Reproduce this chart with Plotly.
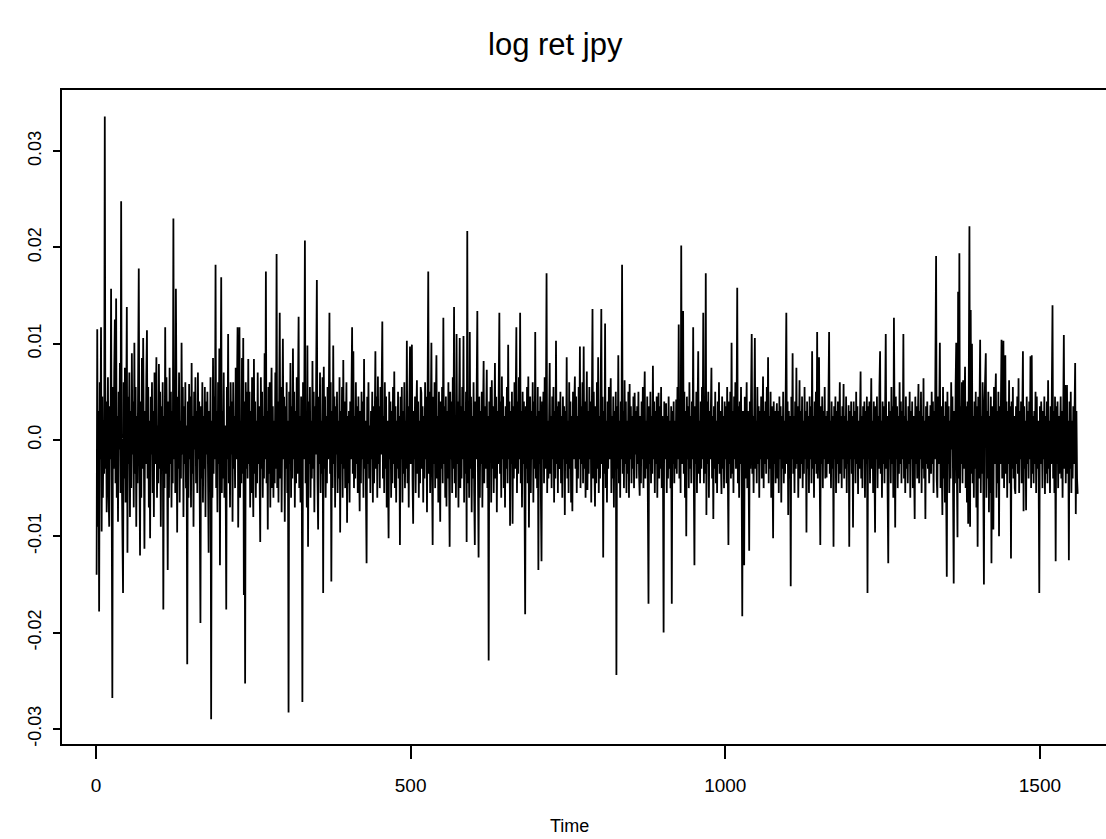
import plotly.graph_objects as go

# ---- text / ticks ----
title_text = "log ret jpy"
x_label = "Time"
x_tick_vals = [0, 500, 1000, 1500]
x_tick_text = ["0", "500", "1000", "1500"]
y_tick_vals = [-0.03, -0.02, -0.01, 0.0, 0.01, 0.02, 0.03]
y_tick_text = ["-0.03", "-0.02", "-0.01", "0.0", "0.01", "0.02", "0.03"]

# ---- log returns, in units of 1e-4 (t = 1..1560) ----
ret_bp_0001_0400 = [
    -140, 115, -90, 30, -178, 60, -20, 117, -95, 45, -60, 20, -35, 336, -30, 40, -75, 10, 65, -55,
    -90, 35, -20, 157, -40, -268, 55, -30, 70, 125, -45, 147, -60, 25, -85, 50, -10, 80, -55, 248,
    -30, -135, -159, 60, -40, 75, -65, 20, 138, -117, 45, -25, 70, -80, 30, -50, 90, -15, 40, -70,
    101, -35, 55, -90, 25, -45, 60, 178, -20, -120, 40, -60, 85, -30, 106, -50, -113, 30, -25, 65,
    114, -40, 55, -70, 20, -102, 45, -15, 60, -55, 30, -80, 70, -25, 40, 86, -60, 15, -45, 79,
    -30, 50, -90, 35, -20, 60, -176, 25, -50, 117, -35, 65, -10, -135, 40, -60, 75, -25, 50, -70,
    30, -45, 230, -20, 60, -55, 157, 10, -96, 45, -30, 70, -65, 20, -40, 101, -15, 55, -80, 35,
    -25, 60, -50, 15, -233, 40, -60, 58, -20, 45, -70, 80, -35, 25, -90, 50, -10, 65, -45, 30,
    -55, 70, -20, 40, -75, -190, 35, -40, 60, -65, 25, -30, 55, -80, 40, -15, 50, -110, -117, 30,
    -45, 65, -290, 20, -60, 85, -35, 45, -20, 182, -50, 30, -75, 60, -25, 95, -130, 40, 169, -55,
    30, -40, 70, -60, 15, -30, -176, 55, -20, 110, -45, 35, -70, 60, -15, 40, -85, 60, -30, 25,
    -50, 75, -20, 45, 117, -91, 30, 117, -60, 20, -45, 85, -35, 106, -161, 40, -253, 60, -30, 50,
    -40, 84, -25, 50, -70, 30, -55, 65, -15, -80, 84, -35, 40, -60, 20, -45, 70, -25, 35, -75,
    -106, 65, -30, 50, -60, 25, -40, 90, -20, 175, -45, 30, -93, 55, -35, 60, -70, 20, 75, -50,
    35, -60, 20, -45, 70, -30, 193, -50, 40, -65, 25, 132, -40, 55, -75, 30, 105, -20, 45, -85,
    35, -30, 60, -55, 20, -283, 50, -25, 80, -60, 35, -40, 95, -20, 50, -70, 30, -45, 65, -35,
    40, 128, -50, 25, -65, 45, -30, -272, 60, -20, 35, 207, -45, 30, -70, 98, -111, 40, -25, 55,
    -60, 20, -40, 82, -30, 50, -75, 35, -15, 60, 166, -40, -93, 45, -25, 70, -55, 20, -35, 65,
    -159, 76, -30, 45, -60, 25, -45, 55, -20, 40, 132, -35, 60, -147, 30, -50, 98, -25, 45, -70,
    35, -15, 50, -55, 20, -40, 65, -96, 30, -25, 55, -60, 83, -30, 40, -50, 15, 60, -86, 25,
]
ret_bp_0401_0800 = [
    -45, 30, -65, 40, -20, 55, 117, -35, 92, -50, 25, -40, 60, -25, 35, -55, 45, -15, -74, 30,
    -45, 50, -20, 40, -60, 84, -30, 20, -50, -128, 45, -25, 60, -40, 15, -55, 30, -20, 50, -65,
    35, -45, 20, 92, -30, 45, -60, 66, -25, 35, -50, 55, -15, 40, 123, -40, 25, -55, 60, -30,
    45, -70, 20, -35, -102, 50, -20, 40, -60, 30, -45, 55, -25, 71, -50, 35, -65, 20, -30, 50,
    -40, 25, -109, 45, -20, 55, -65, 30, -35, 60, -50, 20, -30, 103, -45, 35, -70, 40, 97, -25,
    50, 99, -40, -87, 30, -20, 45, -55, 25, 62, -35, 40, -60, 20, -45, 55, 49, -30, 35, -65,
    25, -40, 60, -20, 45, -75, 30, 175, -35, 50, -55, 20, 101, -30, -109, 45, -25, 60, -50, 35,
    88, -40, 25, -65, 50, -20, -85, 40, -30, 55, -45, 127, -25, 35, -60, 45, -69, 30, -40, 60,
    -35, -111, 50, -20, 40, -55, 65, -30, 138, -45, 25, -60, 110, -25, 40, -70, 30, 106, -50, 35,
    -40, 55, -20, 108, -65, 30, -35, 50, -106, 217, -45, 40, -60, 112, -30, 45, -75, 25, -40, 60,
    -55, -109, 40, -20, 55, 134, -35, -122, 45, -60, 30, -25, 50, -70, 20, 82, -45, 35, -30, 60,
    73, -50, 25, -229, 40, -20, 55, -65, 62, -30, 35, -55, 20, 80, -40, 45, -75, 30, -25, 55,
    132, -35, 40, -60, 66, -20, 45, -50, 25, -70, 35, -30, 55, -45, 99, -20, 40, -89, 30, -25,
    50, -87, 35, -40, 60, -30, 20, 117, -55, 40, -35, 65, -20, 132, -45, 30, -70, 50, -25, 40,
    -60, -181, 35, -30, 55, -45, 66, -91, 25, 45, -55, 30, -20, 60, -65, 40, -30, 112, -40, 25,
    -50, 55, -135, 30, -25, 45, -60, -126, 40, -20, 50, -45, 65, -30, 35, 173, -55, 20, -40, 60,
    80, -35, 25, -50, 45, -20, 55, -65, 30, -40, 103, -25, 35, -55, 40, -30, -21, 50, -45, 25,
    -60, 45, -20, 35, -78, 30, -25, 86, -40, 20, -55, 60, -30, 40, -65, 25, -74, 50, -20, 35,
    66, -30, 45, -55, 25, -40, 55, -20, 97, -50, 35, -25, 60, -45, 97, -30, 40, -60, 25, 71,
    -52, 30, -35, 55, -20, 40, -65, 30, 136, -40, 50, -25, -69, 35, -45, 60, -30, 86, -55, 25,
]
ret_bp_0801_1200 = [
    -40, 50, 136, -25, 45, -122, 30, -35, 121, -50, 20, -65, 40, -30, 55, -20, 35, 64, -55, 25,
    -40, 45, -70, 30, -25, 50, -244, 35, -30, 88, -45, 20, -60, 40, -20, 182, -35, 30, -50, 62,
    -25, 40, -55, 20, -35, 50, -60, 58, -20, 35, -45, 25, -30, 45, -50, 49, -15, 30, -40, 35,
    -25, 50, -35, -58, 25, -45, 40, -20, 55, -50, 30, 71, -40, 20, -30, 45, -65, -170, 35, -25,
    50, -45, 25, -35, 77, -20, 40, -55, 30, -25, 45, -60, 20, 49, -40, 35, -30, 55, -50, 25,
    -35, -200, 40, -20, 30, 38, -55, 25, -40, 45, -30, 20, -50, 35, -170, 30, -25, 40, -45, 20,
    -30, 42, -35, 55, -20, 120, -40, 30, -55, 202, -25, 45, 134, -35, 50, -60, 30, -100, 45, -20,
    35, -50, 60, -30, 25, -45, 40, -20, 117, -40, -130, 35, -25, 50, -55, 30, 92, -35, 20, -45,
    40, -30, 55, -20, 132, -45, 30, -35, 173, -78, 40, -25, 50, -60, 30, -20, 45, 75, -40, 25,
    -82, 35, -30, 50, -45, 20, -55, 40, -25, 60, -35, 30, -20, -56, 45, -30, 25, -50, 40, -20,
    35, -45, 55, -30, -109, 40, -25, 50, -40, 101, -35, 30, -55, 45, -20, 60, -30, 25, 158, -45,
    35, -60, 40, -25, 55, -35, -183, 30, -20, -130, 45, -40, 25, 60, -50, 30, -25, -115, 40, -30,
    45, 110, -35, 25, -55, 40, 106, -30, 20, -45, 55, -25, 35, -60, 30, -20, 45, -40, 25, 66,
    -50, 30, -25, 40, -35, 55, -20, 86, -45, 25, -30, 50, -60, 35, -20, -102, 40, -25, 30, -45,
    20, 38, -40, 30, -55, 45, -20, 35, -65, 25, -30, 50, -45, 20, -35, 60, 132, -25, 40, -78,
    30, -40, 25, -152, 45, -20, 90, -35, 25, -55, 40, -30, 75, -25, 35, -60, 20, 62, -40, 30,
    -25, 45, -50, 20, -35, 55, -20, 30, -96, 40, -30, 25, -55, 45, -20, 35, -45, 92, -30, 25,
    -60, 40, -25, 50, -35, 112, -40, 20, 86, -30, -109, 35, -25, 45, -50, 30, -20, 55, -40, 25,
    -39, 30, -25, 45, 112, -35, 20, -50, 40, -30, 25, -111, 35, -20, 45, -55, 30, -25, 40, -45,
    20, 60, -35, 25, -50, 35, -20, 58, -40, 25, -30, 45, -55, 20, -25, 36, -111, 30, -20, 40,
]
ret_bp_1201_1560 = [
    -35, 25, -91, 40, -20, 30, -45, 50, -25, 35, -56, 20, -30, 45, 71, -40, 25, -50, 35, -20,
    40, -60, 30, -25, 45, -159, 35, -20, 40, -45, 25, 64, -30, 20, -55, 40, -25, -96, 35, -20,
    45, -50, 25, -30, 55, 92, -35, 20, -60, 40, -25, 35, -45, 50, 110, -30, 25, -55, -128, 40,
    -20, 30, -45, 55, -25, 35, -60, 127, -30, -91, 45, -20, 35, -50, 25, -35, 60, -25, 40, -45,
    30, -20, 110, -40, 25, -55, 45, -30, 20, -45, 35, -25, 50, -60, 30, -20, 40, -50, 25, -35,
    -82, 45, -25, 35, -40, 20, 58, -45, 30, -20, 50, -55, 25, -30, 64, -40, 20, -82, 35, -25,
    40, -30, 25, -45, 20, 36, -35, 50, -25, 40, -55, 30, -20, 60, 191, -40, -60, 45, -25, 30,
    101, -50, 35, -20, -78, 55, -40, 25, -65, 40, -30, -142, 50, -25, 35, -55, 20, -40, 60, -10,
    45, -35, -149, 30, -45, 55, 101, -30, -101, 154, -40, 194, -55, 35, -25, 60, -45, 62, -30, 20,
    76, -50, 35, -65, 40, -87, 30, 222, -90, 135, -35, 100, -45, 25, -60, 40, -30, 50, -70, 35,
    -111, 45, -40, 30, 104, -55, 25, -35, 60, -45, -150, 40, 86, 90, -60, 30, -40, 50, -75, 25,
    -55, 45, -128, 35, -30, -93, 55, -25, 40, 69, -60, 30, -45, 50, -100, 35, -25, 45, 104, -40,
    30, 103, -50, 25, 88, -35, 40, -60, 30, -25, 62, -45, 35, -123, 40, -30, 55, -40, 25, -50,
    -56, 35, -25, 45, -35, 64, -55, 30, -20, 40, -45, 25, 92, -74, 35, -30, 20, -73, 45, -25,
    30, -40, 40, -20, 87, -50, 88, -35, 25, -45, 30, -25, 50, -55, 45, -30, 20, -40, -159, 35,
    -25, 40, 14, -50, 30, -20, 45, -56, 25, -35, 40, -45, 62, -30, 20, -55, 35, -25, 50, 140,
    -40, 30, -55, 45, -126, 35, -25, 40, -50, 25, -35, 14, 45, -40, 30, -60, 35, 109, -30, 57,
    -45, 25, 57, -35, 20, -125, 40, -30, 50, -55, 20, -40, 35, -25, 45, 80, -77, 30, -40, -56,
]

log_ret = [v / 10000.0 for v in ret_bp_0001_0400 + ret_bp_0401_0800 + ret_bp_0801_1200 + ret_bp_1201_1560]
time_index = list(range(1, len(log_ret) + 1))

fig = go.Figure(
    go.Scatter(x=time_index, y=log_ret, mode="lines",
               line=dict(color="black", width=1.8), hoverinfo="skip")
)

font_family = "Liberation Sans, Arial, Helvetica, sans-serif"
fig.update_layout(
    width=1106, height=839,
    margin=dict(l=62, r=0, t=90, b=95),
    paper_bgcolor="white", plot_bgcolor="white",
    showlegend=False,
    font=dict(family=font_family, color="black", size=17),
    annotations=[
        dict(text=title_text, xref="paper", yref="paper", x=0.473, y=1.069,
             xanchor="center", yanchor="middle", showarrow=False,
             font=dict(size=31, family=font_family, color="black")),
        dict(text=x_label, xref="paper", yref="paper", x=0.486, y=-0.125,
             xanchor="center", yanchor="middle", showarrow=False,
             font=dict(size=18, family=font_family, color="black")),
    ],
)
fig.update_xaxes(
    range=[-54, 1605], tickvals=x_tick_vals, ticktext=x_tick_text,
    ticks="outside", ticklen=13, tickwidth=1.5, tickcolor="black",
    showline=True, linecolor="black", linewidth=2, mirror=True,
    showgrid=False, zeroline=False, tickfont=dict(size=19),
    ticklabelstandoff=10,
)
fig.update_yaxes(
    range=[-0.03157, 0.03634], tickvals=y_tick_vals, ticktext=y_tick_text,
    tickangle=-90, ticks="outside", ticklen=7, tickwidth=1.5, tickcolor="black",
    showline=True, linecolor="black", linewidth=2, mirror=False,
    showgrid=False, zeroline=False, tickfont=dict(size=18),
    ticklabelstandoff=5,
)

fig.write_html("out.html", config={"displayModeBar": False},
               post_script="document.body.style.margin='0';")
